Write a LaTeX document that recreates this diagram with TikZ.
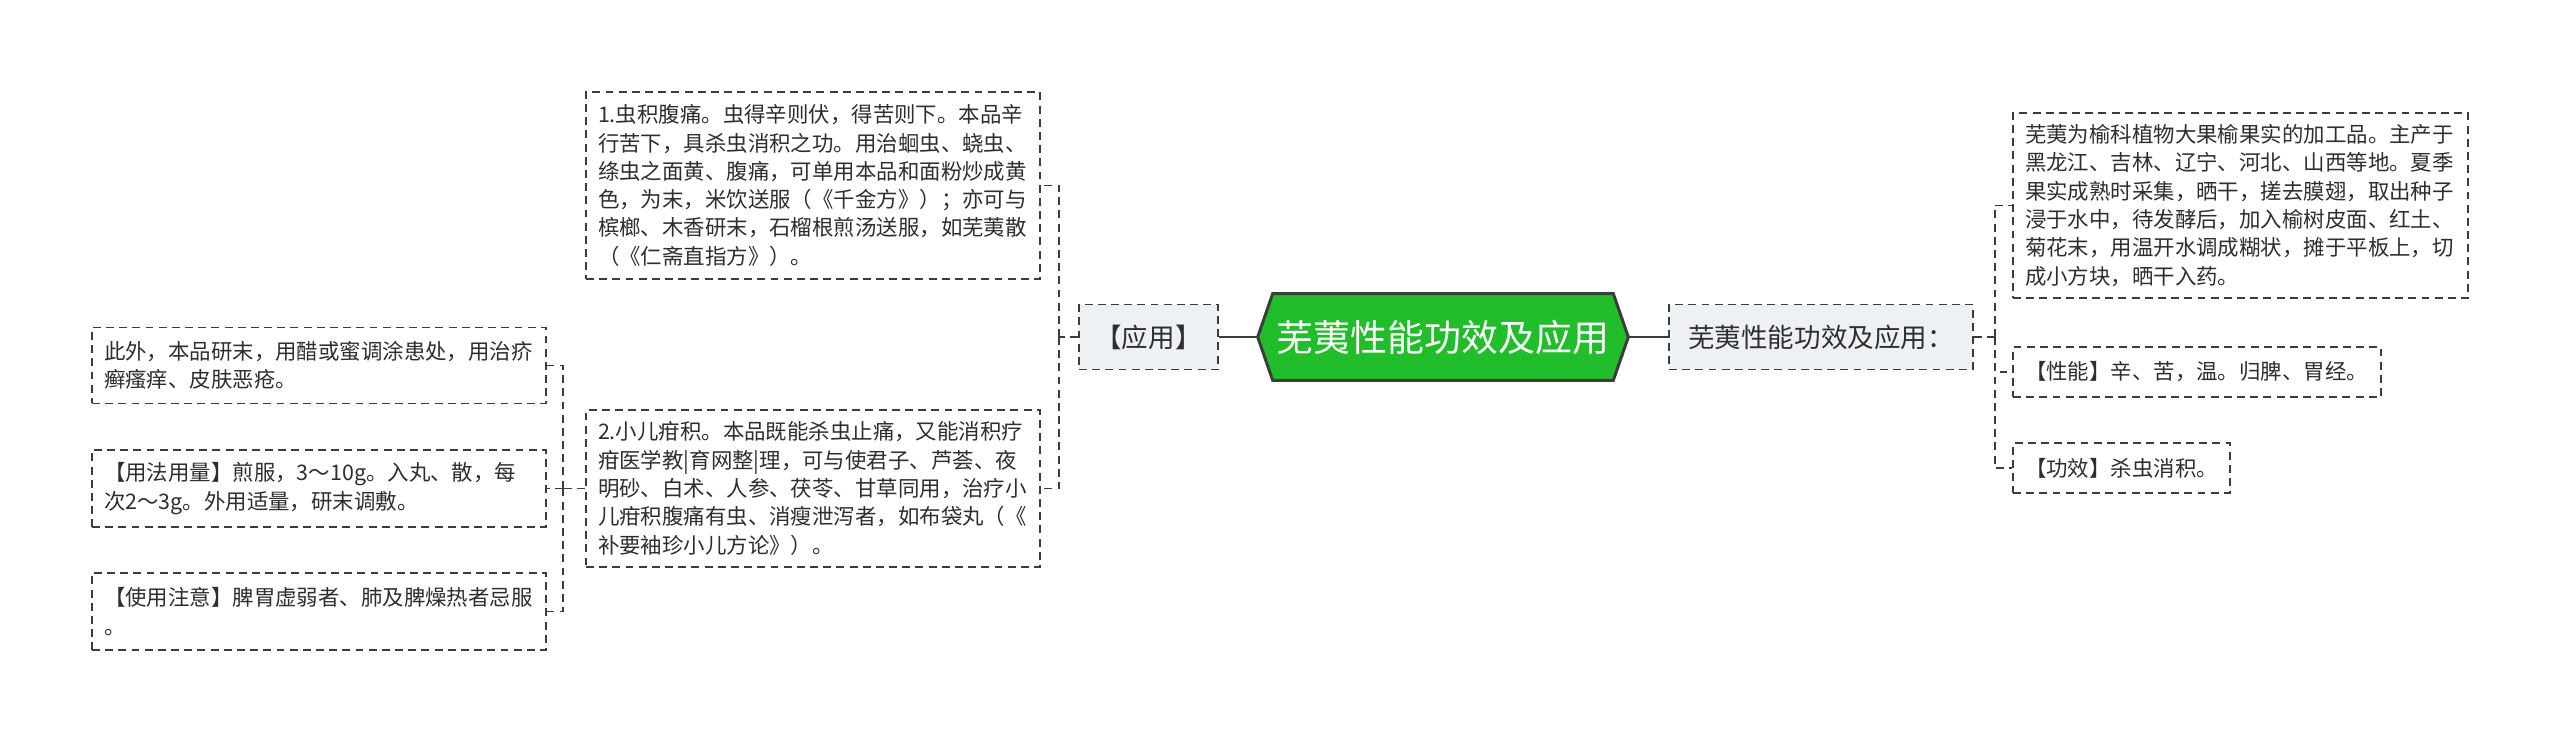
\documentclass[tikz,border=0pt]{standalone}
\usepackage{fontspec}
\setmainfont{Noto Sans CJK SC}
\usetikzlibrary{
    positioning,
    backgrounds
    }
\definecolor{hubgreen}{HTML}{22BD2B}
\definecolor{edgegray}{HTML}{3C3C3C}
\definecolor{boxgray}{HTML}{EEF1F4}
\definecolor{inkgray}{HTML}{2E2E2E}

\begin{document}
\begin{tikzpicture}[x=0.02cm, y=-0.02cm]
\tikzset{leaf/.style =
        {
            rectangle,
            draw=edgegray,
            line width=0.85pt,
            dash pattern=on 4.5pt off 3pt,
            fill=white,
            inner xsep=0.24cm,
            inner ysep=0cm,
            align=left,
            text=inkgray,
            font=\fontsize{12.2pt}{16.1pt}\selectfont
        }
}

\tikzset{mid/.style =
        {
            leaf,
            fill=boxgray,
            align=center,
            minimum height=1.3cm,
            font=\fontsize{15.1pt}{18pt}\selectfont
        }
}

\tikzset{hubtext/.style =
        {
            rectangle,
            minimum width=7.4cm,
            minimum height=1.72cm,
            inner sep=0cm,
            text=white,
            font=\fontsize{21pt}{24pt}\selectfont
        }
}

\tikzset{hubshape/.style =
        {
            line width=1.7pt,
            draw=edgegray,
            fill=hubgreen,
            line join=miter
        }
}

\tikzset{trunk/.style = {
            line width=1.7pt,
            draw=edgegray
        }
}

\tikzset{twig/.style = {
            line width=0.85pt,
            draw=edgegray,
            dash pattern=on 4.5pt off 3pt
        }
}

		\useasboundingbox (0,0) rectangle (2560,743);

		% centre
		\node[hubtext] (hub) at (1443,337) {芜荑性能功效及应用};
		\begin{scope}[on background layer]
			\draw[hubshape] (hub.west) -- ([xshift=0.3cm]hub.north west) -- ([xshift=-0.3cm]hub.north east)
				-- (hub.east) -- ([xshift=-0.3cm]hub.south east) -- ([xshift=0.3cm]hub.south west) -- cycle;
		\end{scope}

		\node[mid, minimum width=2.78cm] (yy) at (1148.5,337) {【应用】};
		\node[mid, minimum width=6.08cm] (xn) at (1821,337) {芜荑性能功效及应用：};

		% left branch
		\node[leaf, minimum width=9.08cm, text width=8.6cm, minimum height=3.74cm] (ying1) at (813,185.5)
			{1.虫积腹痛。虫得辛则伏，得苦则下。本品辛\\
			行苦下，具杀虫消积之功。用治蛔虫、蛲虫、\\
			绦虫之面黄、腹痛，可单用本品和面粉炒成黄\\
			色，为末，米饮送服（《千金方》）；亦可与\\
			槟榔、木香研末，石榴根煎汤送服，如芜荑散\\
			（《仁斋直指方》）。};
		\node[leaf, minimum width=9.08cm, text width=8.6cm, minimum height=3.14cm] (ying2) at (813,488.5)
			{2.小儿疳积。本品既能杀虫止痛，又能消积疗\\
			疳医学教|育网整|理，可与使君子、芦荟、夜\\
			明砂、白术、人参、茯苓、甘草同用，治疗小\\
			儿疳积腹痛有虫、消瘦泄泻者，如布袋丸（《\\
			补要袖珍小儿方论》）。};

		\node[leaf, minimum width=9.08cm, text width=8.6cm, minimum height=1.52cm] (ext) at (319,365.5)
			{此外，本品研末，用醋或蜜调涂患处，用治疥\\
			癣瘙痒、皮肤恶疮。};
		\node[leaf, minimum width=9.08cm, text width=8.6cm, minimum height=1.54cm] (yong) at (319,488.5)
			{【用法用量】煎服，3～10g。入丸、散，每\\
			次2～3g。外用适量，研末调敷。};
		\node[leaf, minimum width=9.08cm, text width=8.6cm, minimum height=1.54cm] (zhu) at (319,611.5)
			{【使用注意】脾胃虚弱者、肺及脾燥热者忌服\\
			。};

		% right branch
		\node[leaf, minimum width=9.1cm, text width=8.62cm, minimum height=3.7cm] (fa) at (2240.5,205.5)
			{芜荑为榆科植物大果榆果实的加工品。主产于\\
			黑龙江、吉林、辽宁、河北、山西等地。夏季\\
			果实成熟时采集，晒干，搓去膜翅，取出种子\\
			浸于水中，待发酵后，加入榆树皮面、红土、\\
			菊花末，用温开水调成糊状，摊于平板上，切\\
			成小方块，晒干入药。};
		\node[leaf, minimum width=7.36cm, text width=6.88cm, minimum height=1cm] (xing) at (2197,372)
			{【性能】辛、苦，温。归脾、胃经。};
		\node[leaf, minimum width=4.34cm, text width=3.86cm, minimum height=1cm] (gong) at (2121.5,468)
			{【功效】杀虫消积。};

		\coordinate (jl) at (1059,337);
		\coordinate (jr) at (1995,337);
		\coordinate (jll) at (563,488.5);

		\draw[trunk] (hub.west) -- (yy.east);
		\draw[trunk] (hub.east) -- (xn.west);

		\draw[twig] (yy.west) -- (jl);
		\foreach \leafname in {ying1, ying2}
		\draw[twig] (jl) |- (\leafname.east);

		\draw[twig] (xn.east) -- (jr);
		\foreach \leafname in {fa, xing, gong}
		\draw[twig] (jr) |- (\leafname.west);

		\draw[twig] (ying2.west) -- (jll);
		\foreach \leafname in {ext, yong, zhu}
		\draw[twig] (jll) |- (\leafname.east);

	\end{tikzpicture}
\end{document}
